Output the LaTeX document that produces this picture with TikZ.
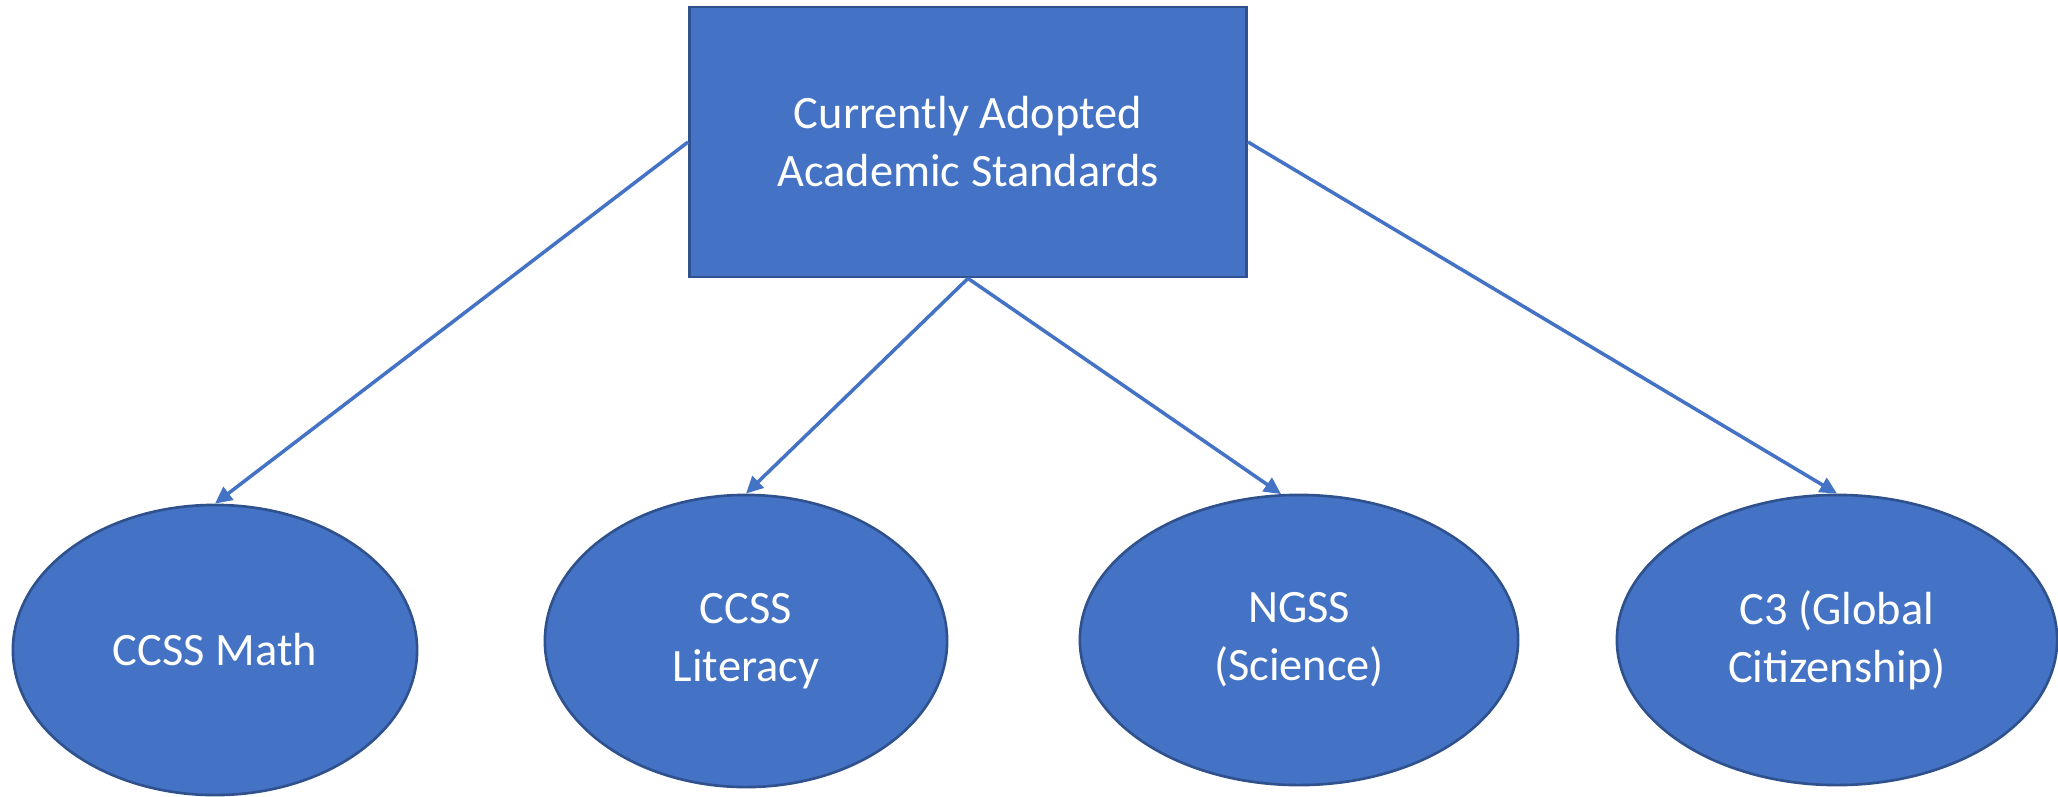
\documentclass[tikz,border=0pt]{standalone}
\usepackage{fontspec}
\setmainfont{Carlito}
\usepackage{xcolor}
\usepackage{tikz}
\usetikzlibrary{shapes,positioning,calc,arrows.meta}
\definecolor{officeblue}{HTML}{4472C4}
\definecolor{officeedge}{HTML}{2F528F}
\tikzstyle{arrow} = [-{Triangle[length=0.17cm, width=0.16cm]}, draw=officeblue, line width=1pt]
\tikzstyle{topbox} = [rectangle, draw=officeedge, fill=officeblue, line width=0.75pt, minimum width=5.57cm, minimum height=2.70cm, align=center, text=white, font=\fontsize{13.2}{16.5}\selectfont]
\tikzstyle{standard} = [ellipse, draw=officeedge, fill=officeblue, line width=0.75pt, inner sep=0pt, minimum height=2.90cm, align=center, text=white, font=\fontsize{13.2}{16.5}\selectfont]

\begin{document}
\begin{tikzpicture}[x=0.01cm, y=0.01cm]
    \useasboundingbox (0,0) rectangle (2058,796);
    % Root
    \node[topbox] (adopted) at (968,654) {Currently Adopted\\Academic Standards};
    % Standards
    \node[standard, minimum width=4.04cm] (math) at (215,146) {CCSS Math};
    \node[standard, minimum width=4.02cm, minimum height=2.92cm] (literacy) at (746,155) {CCSS\\Literacy};
    \node[standard, minimum width=4.38cm] (ngss) at (1299,156) {NGSS\\(Science)};
    \node[standard, minimum width=4.40cm] (cthree) at (1837,156) {C3 (Global\\Citizenship)};

    % Links
    \draw[arrow] (adopted.west) -- (math.north);
    \draw[arrow] (adopted.south) -- (literacy.north);
    \draw[arrow] (adopted.south) -- (ngss.97);
    \draw[arrow] (adopted.east) -- (cthree.north);
\end{tikzpicture}
\end{document}
